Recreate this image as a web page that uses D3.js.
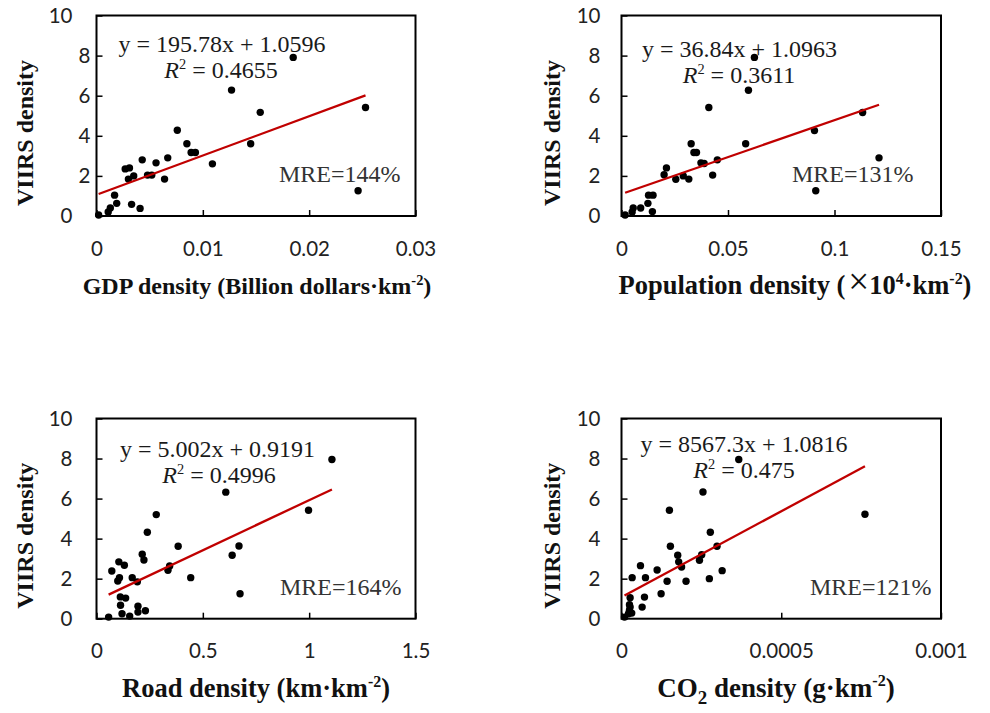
<!DOCTYPE html>
<html><head><meta charset="utf-8">
<script src="https://cdn.jsdelivr.net/npm/d3@7"></script>
<style>body{margin:0;background:#fff}svg{display:block}</style>
</head><body>
<svg id="chart" width="990" height="713"></svg>
<script>
// ---------- data ----------
const viirsTicks = [0, 2, 4, 6, 8, 10];
const viirsTickLabels = ["0", "2", "4", "6", "8", "10"];

const gdpTicks = [0, 0.01, 0.02, 0.03];
const gdpTickLabels = ["0", "0.01", "0.02", "0.03"];
const gdpDensity = [0.0002, 0.0011, 0.0013, 0.0017, 0.0019, 0.0027, 0.0031, 0.0030, 0.0035, 0.0033, 0.0041, 0.0043, 0.0048, 0.0052, 0.0056, 0.0064, 0.0067, 0.0076, 0.0085, 0.0089, 0.0093, 0.0109, 0.0127, 0.0145, 0.0154, 0.0185, 0.0246, 0.0253];
const viirsGdp = [0.05, 0.2, 0.4, 1.04, 0.63, 2.35, 2.4, 1.84, 2.0, 0.58, 0.38, 2.8, 2.04, 2.04, 2.65, 1.84, 2.9, 4.28, 3.6, 3.17, 3.17, 2.6, 6.28, 3.6, 5.17, 7.91, 1.26, 5.41];

const popTicks = [0, 0.05, 0.1, 0.15];
const popTickLabels = ["0", "0.05", "0.1", "0.15"];
const popDensity = [0.0017, 0.005, 0.0055, 0.009, 0.0124, 0.0127, 0.0148, 0.0145, 0.020, 0.0211, 0.0255, 0.029, 0.0316, 0.0327, 0.034, 0.0352, 0.0373, 0.0388, 0.041, 0.0428, 0.045, 0.0583, 0.0596, 0.0624, 0.0906, 0.0912, 0.1132, 0.1209];
const viirsPop = [0.05, 0.2, 0.4, 0.4, 0.63, 1.04, 1.04, 0.22, 2.06, 2.4, 1.83, 2.0, 1.84, 3.6, 3.17, 3.17, 2.65, 2.62, 5.41, 2.04, 2.8, 3.6, 6.27, 7.91, 4.26, 1.26, 5.16, 2.9];

const roadTicks = [0, 0.5, 1, 1.5];
const roadTickLabels = ["0", "0.5", "1", "1.5"];
const roadDensity = [0.057, 0.072, 0.10, 0.108, 0.105, 0.112, 0.113, 0.12, 0.131, 0.137, 0.156, 0.168, 0.192, 0.195, 0.195, 0.215, 0.223, 0.23, 0.239, 0.281, 0.336, 0.344, 0.384, 0.443, 0.608, 0.638, 0.67, 0.675, 0.997, 1.107];
const viirsRoad = [0.08, 2.38, 1.88, 2.05, 2.84, 1.09, 0.67, 0.25, 2.67, 1.03, 0.13, 2.05, 1.84, 0.62, 0.33, 3.22, 2.93, 0.4, 4.32, 5.2, 2.42, 2.63, 3.62, 2.05, 6.32, 3.17, 3.63, 1.25, 5.42, 7.95];

const co2Ticks = [0, 0.0005, 0.001];
const co2TickLabels = ["0", "0.0005", "0.001"];
const co2Density = [0.0000094, 0.0000219, 0.000025, 0.000027, 0.000025, 0.000027, 0.000032, 0.0000333, 0.0000594, 0.0000646, 0.0000719, 0.000075, 0.0001115, 0.000124, 0.0001427, 0.00015, 0.000153, 0.000176, 0.000179, 0.000188, 0.000202, 0.000244, 0.000251, 0.000255, 0.000275, 0.000278, 0.000299, 0.000315, 0.000367, 0.000762];
const viirsCo2 = [0.08, 0.25, 0.42, 0.58, 0.7, 1.05, 0.28, 2.05, 2.65, 0.58, 1.08, 2.05, 2.43, 1.25, 1.87, 5.42, 3.62, 3.17, 2.84, 2.58, 1.87, 2.92, 3.2, 6.33, 2.0, 4.32, 3.62, 2.4, 7.95, 5.22];

const fitSlopes = [195.78, 36.84, 5.002, 8567.3];
const fitIntercepts = [1.0596, 1.0963, 0.9191, 1.0816];
const equationTexts = ["y = 195.78x + 1.0596", "y = 36.84x + 1.0963", "y = 5.002x + 0.9191", "y = 8567.3x + 1.0816"];
const r2Texts = ["0.4655", "0.3611", "0.4996", "0.475"];
const mreTexts = ["MRE=144%", "MRE=131%", "MRE=164%", "MRE=121%"];
const yTitle = "VIIRS density";

// ---------- layout ----------
const svg = d3.select("#chart");
const SERIF = "'Liberation Serif','Times New Roman',serif";
const SANS = "Lato,'Open Sans','Liberation Sans',sans-serif";

const panels = [
  { xs: gdpDensity, ys: viirsGdp, ticks: gdpTicks, labels: gdpTickLabels, domain: [0, 0.03],
    left: 96.5, right: 415.5, top: 15.5, bottom: 216,
    eq: [222, 52], r2: [221, 78], mre: [279, 182], titleX: 257, titleSize: 24, yTitleX: 25,
    title: [{t: "GDP density (Billion dollars·km"}, {t: "-2", sup: true}, {t: ")"}] },
  { xs: popDensity, ys: viirsPop, ticks: popTicks, labels: popTickLabels, domain: [0, 0.15],
    left: 621.5, right: 941, top: 15.5, bottom: 216,
    eq: [739.5, 57], r2: [739, 83], mre: [792, 182], titleX: 795, titleSize: 26.5, yTitleX: 552,
    title: [{t: "Population density ("}, {t: "×", big: true}, {t: "10"}, {t: "4", sup: true}, {t: "·km"}, {t: "-2", sup: true}, {t: ")"}] },
  { xs: roadDensity, ys: viirsRoad, ticks: roadTicks, labels: roadTickLabels, domain: [0, 1.5],
    left: 96.5, right: 415.5, top: 418.5, bottom: 618.7,
    eq: [217.5, 456.7], r2: [219, 483], mre: [280, 595], titleX: 256, titleSize: 26.5, yTitleX: 25,
    title: [{t: "Road density (km·km"}, {t: "-2", sup: true}, {t: ")"}] },
  { xs: co2Density, ys: viirsCo2, ticks: co2Ticks, labels: co2TickLabels, domain: [0, 0.001],
    left: 621.5, right: 941, top: 418.5, bottom: 618.7,
    eq: [744, 451.7], r2: [744, 478], mre: [810, 595], titleX: 776, titleSize: 27, yTitleX: 552,
    title: [{t: "CO"}, {t: "2", sub: true}, {t: " density (g·km"}, {t: "-2", sup: true}, {t: ")"}] }
];

function addRich(textSel, segs, baseSize) {
  let shift = 0;
  segs.forEach(s => {
    const ts = textSel.append("tspan").text(s.t);
    let target = 0;
    if (s.sup) { target = -baseSize * 0.38; ts.attr("font-size", baseSize * 0.6); }
    else if (s.sub) { target = baseSize * 0.28; ts.attr("font-size", baseSize * 0.7); }
    if (s.big) { ts.attr("font-size", baseSize * 1.4).attr("font-weight", "normal").attr("dx", 3); }
    if (s.italic) ts.attr("font-style", "italic");
    if (target !== shift) { ts.attr("dy", target - shift); shift = target; }
  });
}

panels.forEach((p, i) => {
  const x = d3.scaleLinear().domain(p.domain).range([p.left, p.right]);
  const y = d3.scaleLinear().domain([0, 10]).range([p.bottom, p.top]);
  const g = svg.append("g");

  // x axis (ticks inward)
  const xAxis = d3.axisBottom(x).tickValues(p.ticks).tickFormat((d, k) => p.labels[k])
    .tickSizeInner(-6).tickSizeOuter(0).tickPadding(25);
  const gx = g.append("g").attr("transform", `translate(0,${p.bottom})`).call(xAxis);
  gx.select(".domain").remove();
  gx.selectAll(".tick line").attr("stroke", "#000").attr("stroke-width", 1.5);
  gx.selectAll(".tick text").attr("font-family", SANS).attr("font-size", 20.5).attr("fill", "#222");

  // y axis (ticks inward)
  const yAxis = d3.axisLeft(y).tickValues(viirsTicks).tickFormat((d, k) => viirsTickLabels[k])
    .tickSizeInner(-6).tickSizeOuter(0).tickPadding(i % 2 === 0 ? 24 : 21);
  const gy = g.append("g").attr("transform", `translate(${p.left},0)`).call(yAxis);
  gy.select(".domain").remove();
  gy.selectAll(".tick line").attr("stroke", "#000").attr("stroke-width", 1.5);
  gy.selectAll(".tick text").attr("font-family", SANS).attr("font-size", 20.5).attr("fill", "#222");
  if (i === 0) {
    gy.selectAll(".tick text").filter(d => d > 0 && d < 10).attr("dx", 18);
  }

  // frame
  g.append("rect").attr("x", p.left).attr("y", y(10)).attr("width", p.right - p.left)
    .attr("height", y(0) - y(10)).attr("fill", "none").attr("stroke", "#000").attr("stroke-width", 2);

  // points
  const pts = p.xs.map((v, k) => [v, p.ys[k]]);
  g.append("g").selectAll("circle").data(pts).join("circle")
    .attr("cx", d => x(d[0])).attr("cy", d => y(d[1])).attr("r", 3.7).attr("fill", "#000");

  // fit line
  const xmin = d3.min(p.xs), xmax = d3.max(p.xs);
  const f = v => fitSlopes[i] * v + fitIntercepts[i];
  g.append("line").attr("x1", x(xmin)).attr("y1", y(f(xmin))).attr("x2", x(xmax)).attr("y2", y(f(xmax)))
    .attr("stroke", "#C00000").attr("stroke-width", 2.3);

  // equation texts
  g.append("text").attr("x", p.eq[0]).attr("y", p.eq[1]).attr("text-anchor", "middle")
    .attr("font-family", SERIF).attr("font-size", 24).attr("fill", "#1a1a1a").text(equationTexts[i]);
  const r2 = g.append("text").attr("x", p.r2[0]).attr("y", p.r2[1]).attr("text-anchor", "middle")
    .attr("font-family", SERIF).attr("font-size", 24).attr("fill", "#1a1a1a");
  addRich(r2, [{t: "R", italic: true}, {t: "2", sup: true}, {t: " = " + r2Texts[i]}], 24);

  g.append("text").attr("x", p.mre[0]).attr("y", p.mre[1])
    .attr("font-family", SERIF).attr("font-size", 24).attr("fill", "#333").text(mreTexts[i]);

  // axis titles
  const yc = p.bottom - 83;
  g.append("text").attr("transform", `translate(${p.yTitleX},${yc}) rotate(-90)`)
    .attr("text-anchor", "middle").attr("dominant-baseline", "central")
    .attr("font-family", SERIF).attr("font-weight", "bold").attr("font-size", 24).attr("fill", "#111")
    .text(yTitle);

  const xt = g.append("text").attr("x", p.titleX).attr("y", p.bottom + 78).attr("text-anchor", "middle")
    .attr("font-family", SERIF).attr("font-weight", "bold").attr("font-size", p.titleSize).attr("fill", "#111");
  addRich(xt, p.title, p.titleSize);
});
</script>
</body></html>
